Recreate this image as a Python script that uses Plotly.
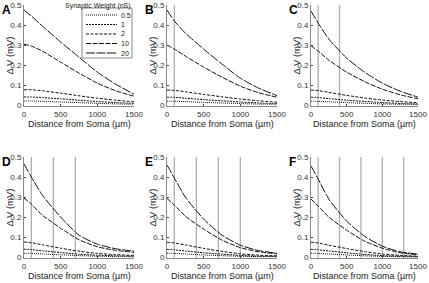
import plotly.graph_objects as go

distance = [0, 100, 250, 500, 750, 1000, 1250, 1500]
weights = ["0.5", "1", "2", "10", "20"]
panels = ["A", "B", "C", "D", "E", "F"]
stim_sites = [100, 400, 700, 1000, 1300]

w20 = {
    "A": [0.475, 0.445, 0.395, 0.315, 0.24, 0.165, 0.105, 0.055],
    "B": [0.475, 0.42, 0.36, 0.28, 0.205, 0.135, 0.085, 0.048],
    "C": [0.47, 0.41, 0.33, 0.235, 0.165, 0.11, 0.07, 0.04],
    "D": [0.465, 0.40, 0.31, 0.20, 0.11, 0.065, 0.042, 0.03],
    "E": [0.46, 0.395, 0.30, 0.19, 0.11, 0.06, 0.033, 0.02],
    "F": [0.455, 0.39, 0.29, 0.18, 0.105, 0.055, 0.027, 0.015],
}
w10 = {
    "A": [0.305, 0.295, 0.27, 0.215, 0.16, 0.11, 0.072, 0.045],
    "B": [0.30, 0.28, 0.245, 0.19, 0.14, 0.095, 0.062, 0.04],
    "C": [0.297, 0.27, 0.225, 0.165, 0.118, 0.08, 0.052, 0.032],
    "D": [0.295, 0.265, 0.21, 0.145, 0.087, 0.052, 0.034, 0.024],
    "E": [0.293, 0.26, 0.205, 0.14, 0.085, 0.048, 0.027, 0.017],
    "F": [0.29, 0.255, 0.20, 0.135, 0.08, 0.045, 0.022, 0.012],
}
w2 = {
    "A": [0.077, 0.077, 0.072, 0.06, 0.047, 0.035, 0.025, 0.017],
    "B": [0.076, 0.074, 0.067, 0.054, 0.042, 0.031, 0.022, 0.015],
    "C": [0.076, 0.073, 0.064, 0.049, 0.036, 0.026, 0.018, 0.012],
    "D": [0.076, 0.072, 0.062, 0.045, 0.030, 0.019, 0.013, 0.009],
    "E": [0.075, 0.071, 0.061, 0.044, 0.029, 0.017, 0.010, 0.007],
    "F": [0.075, 0.071, 0.060, 0.043, 0.028, 0.016, 0.009, 0.005],
}
w1 = {
    "A": [0.041, 0.041, 0.038, 0.032, 0.025, 0.018, 0.013, 0.009],
    "B": [0.040, 0.039, 0.035, 0.028, 0.022, 0.016, 0.011, 0.008],
    "C": [0.040, 0.038, 0.033, 0.025, 0.019, 0.013, 0.009, 0.006],
    "D": [0.040, 0.038, 0.032, 0.023, 0.015, 0.010, 0.007, 0.005],
    "E": [0.039, 0.037, 0.031, 0.022, 0.015, 0.009, 0.005, 0.004],
    "F": [0.039, 0.037, 0.031, 0.022, 0.014, 0.008, 0.005, 0.003],
}
w05 = {
    "A": [0.021, 0.021, 0.019, 0.016, 0.013, 0.009, 0.0065, 0.0045],
    "B": [0.020, 0.020, 0.018, 0.014, 0.011, 0.008, 0.0055, 0.004],
    "C": [0.020, 0.019, 0.017, 0.013, 0.0095, 0.0065, 0.0045, 0.003],
    "D": [0.020, 0.019, 0.016, 0.012, 0.008, 0.005, 0.0035, 0.0025],
    "E": [0.020, 0.019, 0.016, 0.011, 0.0075, 0.0045, 0.003, 0.002],
    "F": [0.020, 0.019, 0.016, 0.011, 0.007, 0.004, 0.0025, 0.0015],
}
series = {"0.5": w05, "1": w1, "2": w2, "10": w10, "20": w20}
dashes = {"0.5": "1px,1px", "1": "2px,1px", "2": "3px,1.5px", "10": "5px,1.5px", "20": "9px,1.5px"}

W, H = 429, 283
xpix = [(24, 134), (167, 277), (311, 418)]
ypix = [(5, 106), (157, 258)]
FONT = "Liberation Sans, Arial, sans-serif"

fig = go.Figure()
layout = dict(width=W, height=H, margin=dict(l=0, r=0, t=0, b=0, autoexpand=False),
              paper_bgcolor="white", plot_bgcolor="white", showlegend=False,
              font=dict(family=FONT, size=8, color="#222"))
annotations = []
shapes = []

for i, p in enumerate(panels):
    row, col = divmod(i, 3)
    n = i + 1
    xa = "xaxis" if n == 1 else f"xaxis{n}"
    ya = "yaxis" if n == 1 else f"yaxis{n}"
    xr = "x" if n == 1 else f"x{n}"
    yr = "y" if n == 1 else f"y{n}"
    x0, x1 = xpix[col]
    y0, y1 = ypix[row]
    layout[xa] = dict(domain=[x0 / W, x1 / W], anchor=yr, range=[0, 1500], automargin=False,
                      tickvals=[0, 500, 1000, 1500], ticks="inside", ticklen=2,
                      showline=True, linecolor="#888", linewidth=1, showgrid=False,
                      zeroline=False, tickfont=dict(size=8, color="#333"))
    layout[ya] = dict(domain=[1 - y1 / H, 1 - y0 / H], anchor=xr, range=[-0.004, 0.5], automargin=False,
                      tickvals=[0, 0.1, 0.2, 0.3, 0.4, 0.5], ticktext=["0", "0.1", "0.2", "0.3", "0.4", "0.5"],
                      ticks="inside", ticklen=2, showline=True, linecolor="#888", linewidth=1,
                      showgrid=False, zeroline=False, tickfont=dict(size=8, color="#333"))
    for s in stim_sites[:i]:
        shapes.append(dict(type="line", xref=xr, yref=f"{yr} domain", x0=s, x1=s, y0=0, y1=1,
                           line=dict(color="#b0b0b0", width=1.3), layer="below"))
    for w in weights:
        fig.add_trace(go.Scatter(x=distance, y=series[w][p], mode="lines", name=w,
                                 xaxis=xr, yaxis=yr, hoverinfo="skip",
                                 line=dict(color="#111", width=1, dash=dashes[w], shape="spline", smoothing=0.6)))
    annotations.append(dict(text=f"<b>{p}</b>", xref="paper", yref="paper",
                            x=(x0 - 24) / W, y=1 - (y0 - 4) / H, xanchor="left", yanchor="top",
                            showarrow=False, font=dict(size=12, color="#000")))
    annotations.append(dict(text="Distance from Soma (µm)", xref="paper", yref="paper",
                            x=(x0 + x1) / 2 / W, y=1 - (y1 + 18) / H, xanchor="center", yanchor="middle",
                            showarrow=False, font=dict(size=9, color="#222")))
    annotations.append(dict(text="Δ V (mV)", xref="paper", yref="paper", textangle=-90,
                            x=(x0 - 15) / W, y=1 - (y0 + y1) / 2 / H, xanchor="center", yanchor="middle",
                            showarrow=False, font=dict(size=9.5, color="#222")))

# manual legend inside panel A
shapes.append(dict(type="rect", xref="paper", yref="paper", x0=82 / W, x1=132 / W,
                   y0=1 - 58 / H, y1=1 - 8 / H, line=dict(color="#888", width=1), fillcolor="white"))
for k, w in enumerate(weights):
    yy = 1 - (15 + k * 9.5) / H
    shapes.append(dict(type="line", xref="paper", yref="paper", x0=86 / W, x1=117 / W, y0=yy, y1=yy,
                       line=dict(color="#111", width=1, dash=dashes[w])))
    annotations.append(dict(text=w, xref="paper", yref="paper", x=119 / W, y=yy, xanchor="left",
                            yanchor="middle", showarrow=False, font=dict(size=7, color="#222")))

annotations.append(dict(text="Synaptic Weight (nS)", xref="paper", yref="paper",
                        x=133 / W, y=1 - 0 / H, xanchor="right", yanchor="top", showarrow=False,
                        font=dict(size=7, color="#222")))
layout["annotations"] = annotations
layout["shapes"] = shapes
fig.update_layout(**layout)
fig.write_html("out.html", config={"displayModeBar": False, "staticPlot": True},
               post_script="document.body.style.margin='0';document.body.style.overflow='hidden';")
